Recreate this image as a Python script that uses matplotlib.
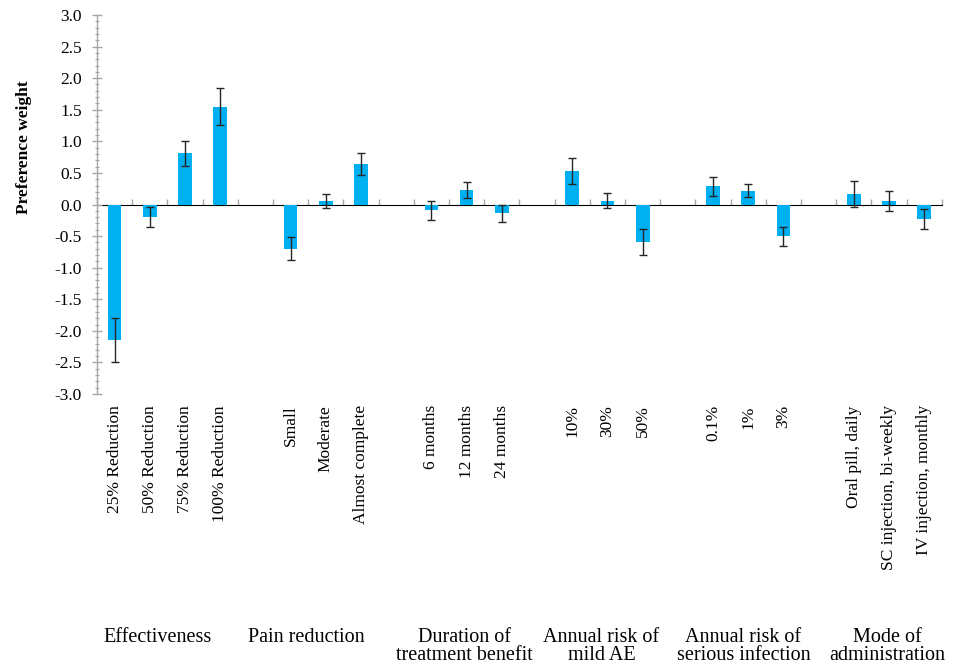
import numpy as np
import matplotlib
matplotlib.use("Agg")
import matplotlib.pyplot as plt
from matplotlib.ticker import MultipleLocator, FormatStrFormatter, NullFormatter
import matplotlib.transforms as mtransforms

plt.rcParams['font.family'] = ['Liberation Serif', 'DejaVu Serif']
plt.rcParams['axes.unicode_minus'] = False

# ---- data ----
categories = ["25% Reduction", "50% Reduction", "75% Reduction", "100% Reduction", "",
              "Small", "Moderate", "Almost complete", "",
              "6 months", "12 months", "24 months", "",
              "10%", "30%", "50%", "",
              "0.1%", "1%", "3%", "",
              "Oral pill, daily", "SC injection, bi-weekly", "IV injection, monthly"]
values = [-2.15, -0.20, 0.81, 1.55, np.nan,
          -0.70, 0.05, 0.64, np.nan,
          -0.09, 0.23, -0.14, np.nan,
          0.53, 0.06, -0.59, np.nan,
          0.29, 0.22, -0.50, np.nan,
          0.17, 0.06, -0.23]
errors = [0.35, 0.16, 0.20, 0.29, np.nan,
          0.18, 0.11, 0.18, np.nan,
          0.15, 0.13, 0.14, np.nan,
          0.20, 0.12, 0.21, np.nan,
          0.15, 0.10, 0.15, np.nan,
          0.21, 0.16, 0.155]
group_names = ["Effectiveness", "Pain reduction", "Duration of\ntreatment benefit",
               "Annual risk of\nmild AE", "Annual risk of\nserious infection",
               "Mode of\nadministration"]
group_label_x = [1.22, 5.44, 9.94, 13.83, 17.86, 21.95]

fig = plt.figure(figsize=(9.68, 6.69), dpi=100)
ax = fig.add_axes([0.1002, 0.411, 0.8728, 0.5666])

x = np.arange(len(categories))
vals = np.array(values, dtype=float)
errs = np.array(errors, dtype=float)
mask = ~np.isnan(vals)

ax.bar(x[mask], vals[mask], width=0.39, color='#00B0F0', zorder=2)
ax.errorbar(x[mask], vals[mask], yerr=errs[mask], fmt='none', ecolor='#262626',
            elinewidth=1.0, capsize=3.2, capthick=1.0, zorder=3)

ax.set_xlim(-0.5, len(categories) - 0.5)
ax.set_ylim(-3.0, 3.0)

for s in ['top', 'right', 'bottom']:
    ax.spines[s].set_visible(False)
ax.spines['left'].set_color('#a6a6a6')
ax.spines['left'].set_linewidth(1.0)

ax.yaxis.set_major_locator(MultipleLocator(0.5))
ax.yaxis.set_minor_locator(MultipleLocator(0.1))
ax.yaxis.set_major_formatter(FormatStrFormatter('%.1f'))
ax.tick_params(axis='y', which='major', direction='inout', length=7, width=1.0,
               color='#a6a6a6', labelsize=12.5, pad=7.5, labelcolor='black')
ax.tick_params(axis='y', which='minor', direction='inout', length=3.5, width=0.8,
               color='#a6a6a6')

ax.set_xticks(x)
ax.set_xticklabels(categories, rotation=90, va='top', ha='center')
ax.tick_params(axis='x', which='both', length=0, labelsize=12.5, pad=8)

ax.set_ylabel("Preference weight", fontsize=12.5, fontweight='bold')
ax.yaxis.set_label_coords(-0.077, 0.652)

# zero axis line with category boundary ticks
sec = ax.secondary_xaxis(0.5)
sec.set_xticks(np.arange(-0.5, len(categories), 1.0))
sec.xaxis.set_major_formatter(NullFormatter())
sec.spines['bottom'].set_color('#a6a6a6')
sec.spines['bottom'].set_linewidth(1.2)
sec.tick_params(axis='x', direction='out', length=4, width=1.0, color='#a6a6a6')

# group labels
trans = mtransforms.blended_transform_factory(ax.transData, fig.transFigure)
for gx, name in zip(group_label_x, group_names):
    ax.text(gx, 0.062, name, transform=trans, ha='center', va='top',
            fontsize=14.5, linespacing=0.95, clip_on=False)

fig.savefig("out.png", dpi=100)
